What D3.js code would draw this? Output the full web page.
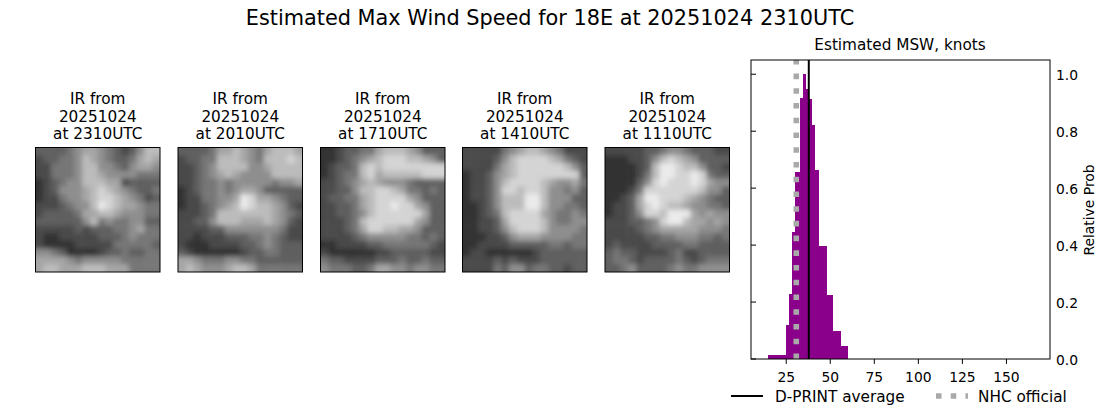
<!DOCTYPE html>
<html>
<head>
<meta charset="utf-8">
<script src="https://cdn.jsdelivr.net/npm/d3@7"></script>
<style>
  body { margin: 0; background: #fff; }
  text { font-family: "DejaVu Sans", sans-serif; fill: #000; }
</style>
</head>
<body>
<svg id="chart" width="1100" height="409"></svg>
<script>
// Histogram bins, knots (edges)
const binLeft  = [15.1, 25.2, 26.9, 28.6, 30.3, 33.1, 34.8, 36.5, 38.2, 39.9, 41.6, 43.9, 48.4, 51.8, 56.4];
const binRight = [25.2, 26.9, 28.6, 30.3, 33.1, 34.8, 36.5, 38.2, 39.9, 41.6, 43.9, 48.4, 51.8, 56.4, 60.4];
const binProb  = [0.014, 0.12, 0.23, 0.447, 0.658, 0.915, 1.0, 0.947, 0.912, 0.82, 0.665, 0.398, 0.225, 0.099, 0.046];

const dprintAverage = 38.1;
const nhcOfficial = 31;

const xTicks = [25, 50, 75, 100, 125, 150];
const yTicks = [0, 0.2, 0.4, 0.6, 0.8, 1.0];

// IR panels, coarse brightness (0 dark .. 9 bright)
const panelTimes = ["2310UTC", "2010UTC", "1710UTC", "1410UTC", "1110UTC"];
const ir2310 = [
  "3333456654323577",
  "2334457654334676",
  "2244457755435665",
  "2244457765555444",
  "1234557776623333",
  "1235556787654334",
  "1224556788765423",
  "2223455798766544",
  "2333346677655544",
  "3333335745445533",
  "2222232333445644",
  "2112222233345444",
  "2111122222444443",
  "5543111123343344",
  "6666545555544444",
  "6776667776664444"
];
const ir2010 = [
  "3333466765467776",
  "2334477765477787",
  "2234577775567777",
  "2234567655557777",
  "2234454555554556",
  "1234454566533333",
  "1224455698665433",
  "1223456798776532",
  "2223477777776543",
  "2233577766676532",
  "2222335555555422",
  "2212223334454322",
  "2111222233454333",
  "3211111123344333",
  "6654445544333333",
  "6765556776444444"
];
const ir1710 = [
  "1123344677765333",
  "1123456788877653",
  "1233478788888888",
  "1234478677777888",
  "2234567655543333",
  "2233577887644343",
  "2334467888865333",
  "2233467889886533",
  "2233457888888633",
  "2223478888886533",
  "2223468877665333",
  "2222345555544343",
  "1122223344444432",
  "2111111223333322",
  "4332222333433433",
  "5444334665545544"
];
const ir1410 = [
  "2222245677654222",
  "2222357888876432",
  "2222467888888753",
  "1223567888888883",
  "1223578888765564",
  "1223588788755453",
  "1223577799755533",
  "1123577799755443",
  "1123478888654454",
  "1122368888754455",
  "1122357888755554",
  "1112235666555544",
  "1122223333344344",
  "1221111112333333",
  "2222323222333333",
  "2222435534433233"
];
const ir1110 = [
  "2222233455433322",
  "1112235787653333",
  "1111237998775332",
  "1111247998898433",
  "1111358988898655",
  "1112488888887553",
  "1123699888765433",
  "1223689877655443",
  "1223588799965655",
  "2223345899766565",
  "2222345666665554",
  "2222233445554434",
  "2322223333443333",
  "3433222234223333",
  "3443233334323444",
  "3345333345445555"
];
const panelGrids = [ir2310, ir2010, ir1710, ir1410, ir1110];
const panelLeft = [35.5, 178, 320.5, 462.5, 605];

const svg = d3.select("#chart");
const defs = svg.append("defs");
defs.append("filter").attr("id", "soft")
    .attr("filterUnits", "userSpaceOnUse")
    .attr("x", 0).attr("y", 0).attr("width", 1100).attr("height", 409)
  .append("feGaussianBlur").attr("stdDeviation", 2.6);

// Figure title
svg.append("text")
    .attr("x", 550).attr("y", 25)
    .attr("text-anchor", "middle")
    .attr("font-size", 20.83)
    .text("Estimated Max Wind Speed for 18E at 20251024 2310UTC");

// IR panels
const panelSize = 124.5, panelTop = 147.5;
const gray = d3.scaleLinear().domain([0, 9]).range([25, 235]);
const cellPos = d3.scaleBand().domain(d3.range(16)).range([0, panelSize]);

panelGrids.forEach((grid, p) => {
  const g = svg.append("g").attr("transform", `translate(${panelLeft[p]},${panelTop})`);
  defs.append("clipPath").attr("id", "clip" + p)
    .append("rect").attr("width", panelSize).attr("height", panelSize);

  const cells = g.append("g").attr("clip-path", `url(#clip${p})`)
    .append("g").attr("filter", "url(#soft)");
  const pad = 12;
  grid.forEach((row, r) => {
    cells.selectAll(null).data(row.split("").map(Number)).join("rect")
      .attr("x", (d, c) => cellPos(c) - (c === 0 ? pad : 0))
      .attr("y", cellPos(r) - (r === 0 ? pad : 0))
      .attr("width", (d, c) => cellPos.bandwidth() + (c === 0 || c === 15 ? pad : 0) + 0.5)
      .attr("height", cellPos.bandwidth() + (r === 0 || r === 15 ? pad : 0) + 0.5)
      .attr("fill", d => { const v = gray(d); return d3.rgb(v, v, v); });
  });

  g.append("rect")
    .attr("width", panelSize).attr("height", panelSize)
    .attr("fill", "none").attr("stroke", "#000").attr("stroke-width", 1);

  const title = g.append("text").attr("text-anchor", "middle").attr("font-size", 15.28);
  ["IR from", "20251024", "at " + panelTimes[p]].forEach((t, i) => {
    title.append("tspan")
      .attr("x", panelSize / 2)
      .attr("y", -43.5 + i * 17.5)
      .text(t);
  });
});

// Histogram axes
const plot = { left: 751, right: 1050, top: 60, bottom: 359 };
const x = d3.scaleLinear().domain([5.3, 175]).range([plot.left, plot.right]);
const y = d3.scaleLinear().domain([0, 1.05]).range([plot.bottom, plot.top]);

svg.append("g").attr("shape-rendering", "crispEdges").selectAll("rect")
  .data(binProb)
  .join("rect")
    .attr("x", (d, i) => x(binLeft[i]))
    .attr("width", (d, i) => x(binRight[i]) - x(binLeft[i]))
    .attr("y", d => y(d))
    .attr("height", d => y(0) - y(d))
    .attr("fill", "#8b008b");

svg.append("line")
    .attr("x1", x(nhcOfficial)).attr("x2", x(nhcOfficial))
    .attr("y1", y.range()[0]).attr("y2", y.range()[1])
    .attr("stroke", "#a9a9a9").attr("stroke-width", 5.56)
    .attr("stroke-dasharray", "5.56 9.17");

svg.append("line")
    .attr("x1", x(dprintAverage)).attr("x2", x(dprintAverage))
    .attr("y1", y.range()[0]).attr("y2", y.range()[1])
    .attr("stroke", "#000").attr("stroke-width", 2);

svg.append("rect")
    .attr("x", plot.left).attr("y", plot.top)
    .attr("width", plot.right - plot.left).attr("height", plot.bottom - plot.top)
    .attr("fill", "none").attr("stroke", "#000").attr("stroke-width", 1);

const xAxis = svg.append("g")
    .attr("transform", `translate(0,${plot.bottom})`)
    .call(d3.axisBottom(x).tickValues(xTicks).tickSize(4.9).tickPadding(8));
const yAxis = svg.append("g")
    .attr("transform", `translate(${plot.right},1)`)
    .call(d3.axisRight(y).tickValues(yTicks).tickFormat(d3.format(".1f")).tickSize(0).tickPadding(6));
[xAxis, yAxis].forEach(a => {
  a.select(".domain").remove();
  a.selectAll("text").attr("font-size", 13.89).attr("font-family", null);
});

// y ticks sit on the left spine, pointing in
svg.append("g").selectAll("line")
  .data(yTicks)
  .join("line")
    .attr("x1", plot.left).attr("x2", plot.left + 5)
    .attr("y1", d => y(d)).attr("y2", d => y(d))
    .attr("stroke", "#000");

svg.append("text")
    .attr("x", 900).attr("y", 50)
    .attr("text-anchor", "middle").attr("font-size", 15.28)
    .text("Estimated MSW, knots");

svg.append("text")
    .attr("transform", "translate(1094,210) rotate(-90)")
    .attr("text-anchor", "middle").attr("font-size", 13.89)
    .text("Relative Prob");

// Legend
svg.append("line")
    .attr("x1", 731).attr("x2", 763).attr("y1", 396).attr("y2", 396)
    .attr("stroke", "#000").attr("stroke-width", 2);
svg.append("text").attr("x", 775).attr("y", 402).attr("font-size", 15.28).text("D-PRINT average");
svg.append("line")
    .attr("x1", 936).attr("x2", 968).attr("y1", 396).attr("y2", 396)
    .attr("stroke", "#a9a9a9").attr("stroke-width", 5.56)
    .attr("stroke-dasharray", "5.56 9.17");
svg.append("text").attr("x", 978).attr("y", 402).attr("font-size", 15.28).text("NHC official");
</script>
</body>
</html>
